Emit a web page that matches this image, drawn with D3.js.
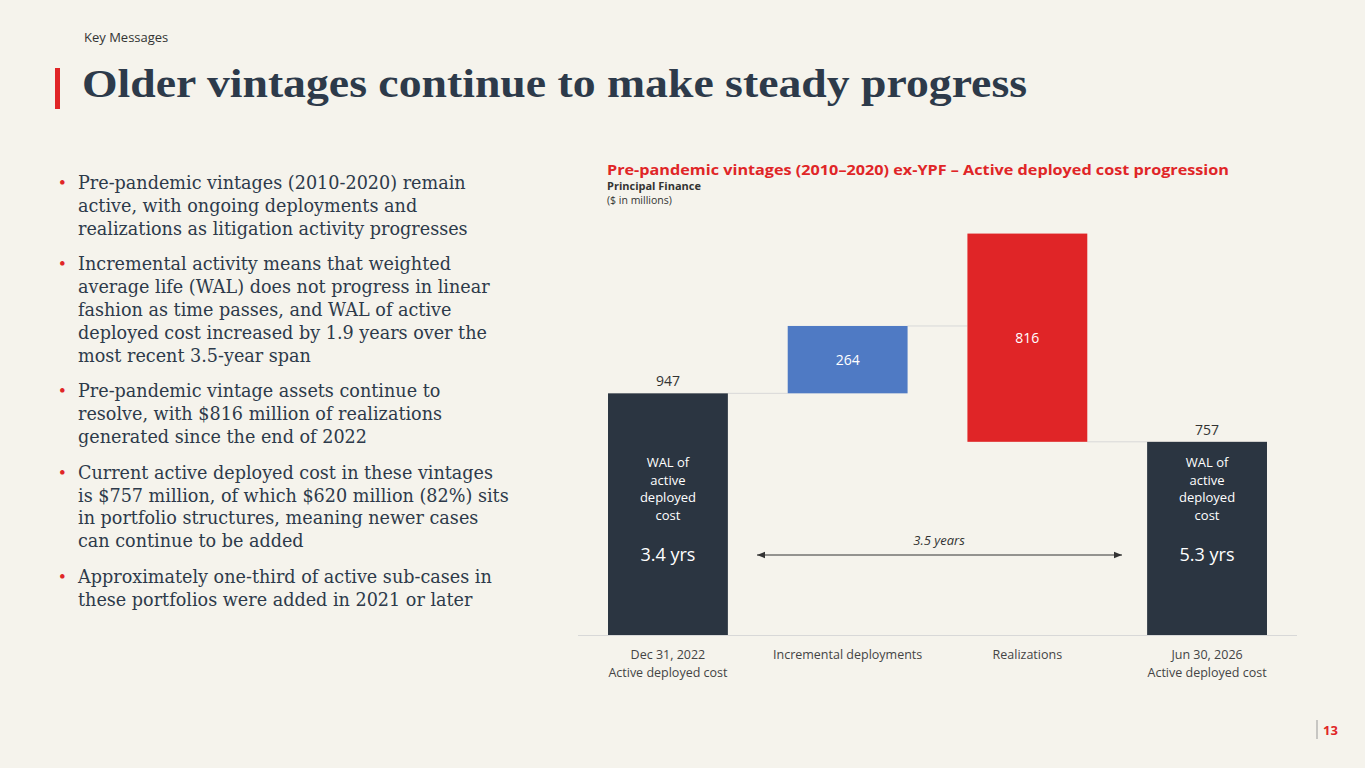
<!DOCTYPE html>
<html><head><meta charset="utf-8">
<script src="https://cdn.jsdelivr.net/npm/d3@7"></script>
<style>
  body { margin:0; background:#f5f3ec; }
  svg { display:block; }
</style></head>
<body><div id="chart"></div>
<script>
  const width = 1365, height = 768;

  // chart data
  const categories = ["Dec 31, 2022|Active deployed cost", "Incremental deployments", "Realizations", "Jun 30, 2026|Active deployed cost"];
  const values = [947, 264, 816, 757];
  const kinds = ["total", "up", "down", "total"];
  const walLabels = ["3.4 yrs", null, null, "5.3 yrs"];
  const bullets = [
    ["Pre-pandemic vintages (2010-2020) remain", "active, with ongoing deployments and", "realizations as litigation activity progresses"],
    ["Incremental activity means that weighted", "average life (WAL) does not progress in linear", "fashion as time passes, and WAL of active", "deployed cost increased by 1.9 years over the", "most recent 3.5-year span"],
    ["Pre-pandemic vintage assets continue to", "resolve, with $816 million of realizations", "generated since the end of 2022"],
    ["Current active deployed cost in these vintages", "is $757 million, of which $620 million (82%) sits", "in portfolio structures, meaning newer cases", "can continue to be added"],
    ["Approximately one-third of active sub-cases in", "these portfolios were added in 2021 or later"]
  ];

  const svg = d3.select('#chart').append('svg').attr('width', width).attr('height', height);
  const sans = "'Open Sans', 'DejaVu Sans', sans-serif";
  const serif = "'Liberation Serif', 'DejaVu Serif', serif";

  svg.append('text').attr('x', 84).attr('y', 42).attr('font-family', sans).attr('font-size', 13).attr('fill', '#333').text('Key Messages');
  svg.append('rect').attr('x', 55).attr('y', 68).attr('width', 5).attr('height', 41).attr('fill', '#e02527');
  svg.append('text').attr('x', 82).attr('y', 97).attr('font-family', serif).attr('font-weight', 'bold')
    .attr('font-size', 41).attr('fill', '#2d3a4a')
    .attr('textLength', 945).attr('lengthAdjust', 'spacingAndGlyphs')
    .text('Older vintages continue to make steady progress');

  // bullets
  let y = 189;
  bullets.forEach(lines => {
    svg.append('text').attr('x', 59).attr('y', y).attr('font-family', serif).attr('font-size', 19).attr('fill', '#e02527').text('•');
    lines.forEach(l => {
      svg.append('text').attr('x', 78).attr('y', y).attr('font-family', "'DejaVu Serif', serif").attr('font-size', 17.6).attr('fill', '#2d3a4a').text(l);
      y += 22.8;
    });
    y += 13;
  });

  // chart titles
  svg.append('text').attr('x', 607).attr('y', 175).attr('font-family', sans).attr('font-weight', 'bold')
    .attr('font-size', 15).attr('fill', '#e02527').attr('textLength', 622).attr('lengthAdjust', 'spacingAndGlyphs')
    .text('Pre-pandemic vintages (2010–2020) ex-YPF – Active deployed cost progression');
  svg.append('text').attr('x', 607).attr('y', 190).attr('font-family', sans).attr('font-weight', 'bold')
    .attr('font-size', 11).attr('fill', '#333').text('Principal Finance');
  svg.append('text').attr('x', 607).attr('y', 204).attr('font-family', sans)
    .attr('font-size', 10.5).attr('fill', '#333').text('($ in millions)');

  // waterfall spans
  const spans = [];
  spans.push([0, values[0]]);
  spans.push([values[0], values[0] + values[1]]);
  spans.push([values[3], values[3] + values[2]]);
  spans.push([0, values[3]]);

  const x = d3.scaleBand().domain(categories).range([578, 1297]).paddingInner(0.333).paddingOuter(0.167);
  const yS = d3.scaleLinear().domain([0, 1540]).range([635, 242]);
  const colors = { total: '#2b3541', up: '#4f7ac4', down: '#e02527' };

  const conn = [[0, values[0]], [1, values[0] + values[1]], [2, values[3]]];
  conn.forEach(([i, v]) => {
    svg.append('line').attr('x1', x(categories[i]) + x.bandwidth()).attr('x2', x(categories[i + 1]))
      .attr('y1', yS(v)).attr('y2', yS(v)).attr('stroke', '#d8d8d8').attr('stroke-width', 1);
  });

  svg.selectAll('rect.bar').data(categories).join('rect').attr('class', 'bar')
    .attr('x', d => x(d)).attr('width', x.bandwidth())
    .attr('y', (d, i) => yS(spans[i][1])).attr('height', (d, i) => yS(spans[i][0]) - yS(spans[i][1]))
    .attr('fill', (d, i) => colors[kinds[i]]);

  svg.append('line').attr('x1', 578).attr('x2', 1297).attr('y1', 635.5).attr('y2', 635.5).attr('stroke', '#d8d8d8');

  categories.forEach((c, i) => {
    const cx = x(c) + x.bandwidth() / 2;
    if (kinds[i] === 'total') {
      svg.append('text').attr('x', cx).attr('y', yS(values[i]) - 7).attr('text-anchor', 'middle')
        .attr('font-family', sans).attr('font-size', 14).attr('fill', '#333').text(values[i]);
      ['WAL of', 'active', 'deployed', 'cost'].forEach((t, k) => {
        svg.append('text').attr('x', cx).attr('y', 467 + k * 17.7).attr('text-anchor', 'middle')
          .attr('font-family', sans).attr('font-size', 13).attr('fill', '#fff').text(t);
      });
      svg.append('text').attr('x', cx).attr('y', 561).attr('text-anchor', 'middle')
        .attr('font-family', sans).attr('font-size', 18).attr('fill', '#fff').text(walLabels[i]);
    } else {
      const mid = (yS(spans[i][0]) + yS(spans[i][1])) / 2;
      svg.append('text').attr('x', cx).attr('y', mid + 5).attr('text-anchor', 'middle')
        .attr('font-family', sans).attr('font-size', 14).attr('fill', '#fff').text(values[i]);
    }
    c.split('|').forEach((t, k) => {
      svg.append('text').attr('x', cx).attr('y', 659 + k * 18).attr('text-anchor', 'middle')
        .attr('font-family', sans).attr('font-size', 12.5).attr('fill', '#444').text(t);
    });
  });

  const defs = svg.append('defs');
  ['s', 'e'].forEach(id => {
    defs.append('marker').attr('id', 'a' + id).attr('viewBox', '0 0 10 10').attr('refX', 10).attr('refY', 5)
      .attr('markerWidth', 8).attr('markerHeight', 8).attr('orient', 'auto-start-reverse')
      .append('path').attr('d', 'M0,1 L10,5 L0,9 z').attr('fill', '#333');
  });
  svg.append('line').attr('x1', 757).attr('x2', 1122).attr('y1', 555).attr('y2', 555)
    .attr('stroke', '#333').attr('stroke-width', 1)
    .attr('marker-start', 'url(#as)').attr('marker-end', 'url(#ae)');
  svg.append('text').attr('x', 939).attr('y', 545).attr('text-anchor', 'middle').attr('font-family', sans)
    .attr('font-style', 'italic').attr('font-size', 13).attr('fill', '#333').text('3.5 years');

  svg.append('line').attr('x1', 1317).attr('x2', 1317).attr('y1', 720).attr('y2', 739).attr('stroke', '#999');
  svg.append('text').attr('x', 1323).attr('y', 735).attr('font-family', sans).attr('font-weight', 'bold')
    .attr('font-size', 13).attr('fill', '#e02527').text('13');
</script>
</body></html>
